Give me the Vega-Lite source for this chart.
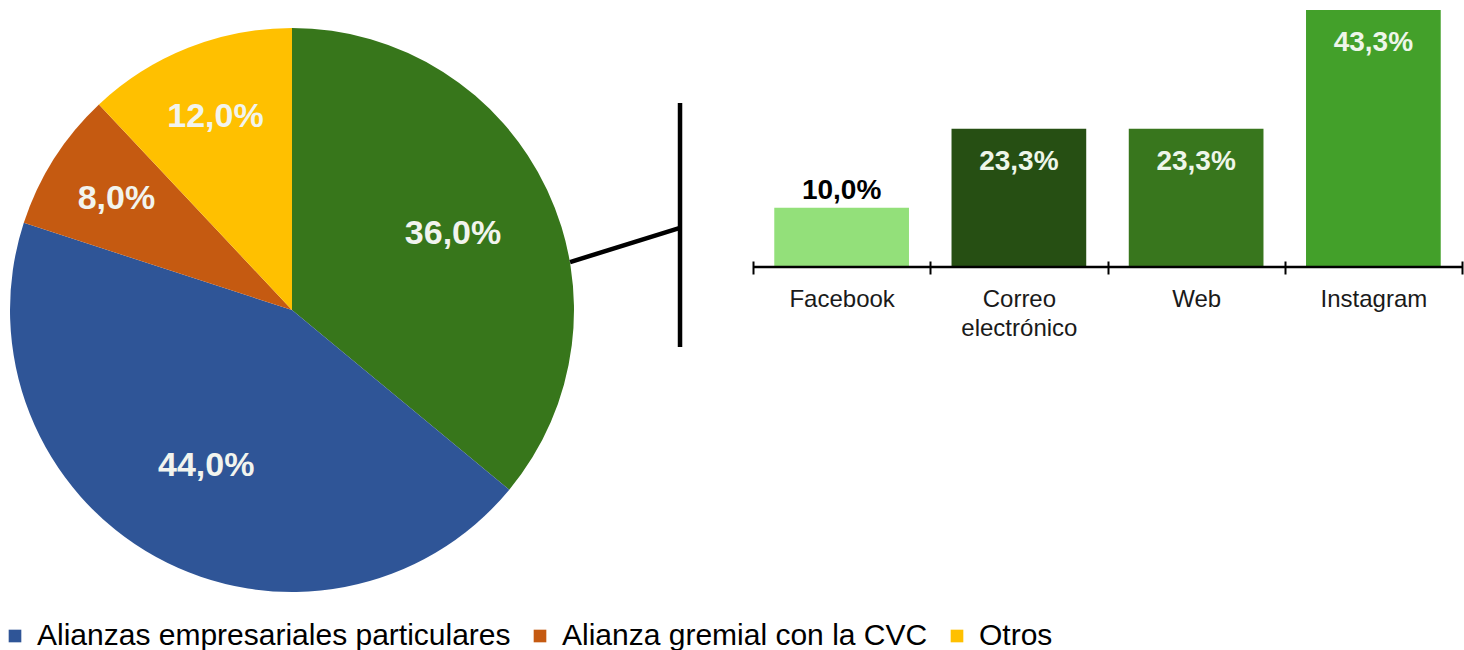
{
  "$schema": "https://vega.github.io/schema/vega-lite/v6.json",
  "background": "white",
  "padding": 0,
  "bounds": "flush",
  "spacing": 169,
  "config": {
    "view": {"stroke": null},
    "font": "Liberation Sans",
    "locale": {"number": {"decimal": ",", "thousands": ".", "grouping": [3], "currency": ["", " €"]}}
  },
  "hconcat": [
    {
      "width": 584,
      "height": 620,
      "layer": [
        {
          "data": {"values": [
            {"categoria": "Medios digitales", "valor": 0.36, "orden": 1},
            {"categoria": "Alianzas empresariales particulares", "valor": 0.44, "orden": 2},
            {"categoria": "Alianza gremial con la CVC", "valor": 0.08, "orden": 3},
            {"categoria": "Otros", "valor": 0.12, "orden": 4}
          ]},
          "encoding": {
            "theta": {"field": "valor", "type": "quantitative", "stack": true},
            "order": {"field": "orden", "type": "quantitative"}
          },
          "layer": [
            {
              "mark": {"type": "arc", "outerRadius": 282},
              "encoding": {
                "color": {
                  "field": "categoria",
                  "type": "nominal",
                  "scale": {
                    "domain": ["Medios digitales", "Alianzas empresariales particulares", "Alianza gremial con la CVC", "Otros"],
                    "range": ["#37761B", "#2F5597", "#C55A11", "#FFC000"]
                  },
                  "legend": {
                    "orient": "none",
                    "legendX": 0,
                    "legendY": 621,
                    "direction": "horizontal",
                    "title": null,
                    "values": ["Alianzas empresariales particulares", "Alianza gremial con la CVC", "Otros"],
                    "symbolType": "square",
                    "symbolSize": 160,
                    "symbolStrokeWidth": 0,
                    "labelFontSize": 30,
                    "labelFont": "Liberation Sans",
                    "labelColor": "#000000",
                    "labelOffset": 7,
                    "columnPadding": 14,
                    "labelLimit": 700
                  }
                }
              }
            },
            {
              "mark": {"type": "text", "radius": 178, "fontSize": 34, "fontWeight": "bold", "font": "Liberation Sans", "color": "#F2F4EE"},
              "encoding": {
                "text": {"condition": {"test": "datum.valor >= 0.2", "field": "valor", "type": "quantitative", "format": ".1%"}, "value": ""}
              }
            },
            {
              "mark": {"type": "text", "radius": 208, "fontSize": 34, "fontWeight": "bold", "font": "Liberation Sans", "color": "#F2F4EE"},
              "encoding": {
                "text": {"condition": {"test": "datum.valor < 0.2", "field": "valor", "type": "quantitative", "format": ".1%"}, "value": ""}
              }
            }
          ]
        },
        {
          "data": {"values": [
            {"tramo": "enlace", "x0": 0.986, "y0": 0.17, "x1": 1.376, "y1": 0.291},
            {"tramo": "corchete", "x0": 1.376, "y0": 0.734, "x1": 1.376, "y1": -0.131}
          ]},
          "mark": {"type": "rule", "strokeWidth": 4.5, "color": "#000000"},
          "encoding": {
            "x": {"field": "x0", "type": "quantitative", "scale": {"domain": [-1.0355, 1.0355], "nice": false, "zero": false}, "axis": null},
            "x2": {"field": "x1"},
            "y": {"field": "y0", "type": "quantitative", "scale": {"domain": [-1.0993, 1.0993], "nice": false, "zero": false}, "axis": null},
            "y2": {"field": "y1"}
          }
        }
      ]
    },
    {
      "width": 709,
      "height": 267,
      "data": {"values": [
        {"canal": "Facebook", "valor": 0.1},
        {"canal": "Correo electrónico", "valor": 0.233},
        {"canal": "Web", "valor": 0.233},
        {"canal": "Instagram", "valor": 0.433}
      ]},
      "layer": [
        {
          "mark": {"type": "bar", "width": {"band": 0.76}},
          "encoding": {
            "x": {
              "field": "canal",
              "type": "nominal",
              "sort": ["Facebook", "Correo electrónico", "Web", "Instagram"],
              "scale": {"paddingInner": 0, "paddingOuter": 0},
              "axis": {
                "title": null,
                "domain": false,
                "ticks": true,
                "tickBand": "extent",
                "tickSize": 13,
                "tickWidth": 2,
                "tickColor": "#000000",
                "offset": -6,
                "labelAngle": 0,
                "labelFontSize": 24,
                "labelFont": "Liberation Sans",
                "labelColor": "#1a1a1a",
                "labelPadding": 13,
                "labelBaseline": "top",
                "labelExpr": "split(datum.label, ' ')",
                "labelLineHeight": 29
              }
            },
            "y": {"field": "valor", "type": "quantitative", "scale": {"domain": [0, 0.447]}, "axis": null},
            "fill": {
              "field": "canal",
              "type": "nominal",
              "scale": {
                "domain": ["Facebook", "Correo electrónico", "Web", "Instagram"],
                "range": ["#93E07A", "#264F13", "#38761D", "#43A02A"]
              },
              "legend": null
            }
          }
        },
        {
          "transform": [{"filter": "datum.valor < 0.15"}],
          "mark": {"type": "text", "baseline": "alphabetic", "dy": -9, "fontSize": 28, "fontWeight": "bold", "font": "Liberation Sans", "color": "#000000"},
          "encoding": {
            "x": {"field": "canal", "type": "nominal", "sort": ["Facebook", "Correo electrónico", "Web", "Instagram"]},
            "y": {"field": "valor", "type": "quantitative"},
            "text": {"field": "valor", "type": "quantitative", "format": ".1%"}
          }
        },
        {
          "transform": [{"filter": "datum.valor >= 0.15"}],
          "mark": {"type": "text", "baseline": "top", "dy": 19, "fontSize": 28, "fontWeight": "bold", "font": "Liberation Sans", "color": "#EEF6EA"},
          "encoding": {
            "x": {"field": "canal", "type": "nominal", "sort": ["Facebook", "Correo electrónico", "Web", "Instagram"]},
            "y": {"field": "valor", "type": "quantitative"},
            "text": {"field": "valor", "type": "quantitative", "format": ".1%"}
          }
        },
        {
          "data": {"values": [{"linea": "base"}]},
          "mark": {"type": "rule", "strokeWidth": 2.5, "color": "#000000"},
          "encoding": {"y": {"datum": 0, "type": "quantitative"}}
        }
      ]
    }
  ]
}
